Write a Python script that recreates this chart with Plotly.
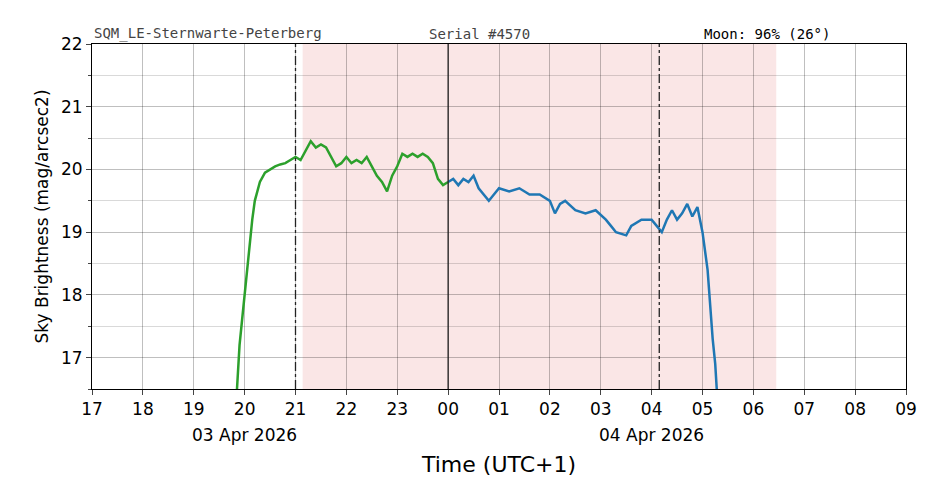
import plotly.graph_objects as go

hour_labels = ["17","18","19","20","21","22","23","00","01","02","03","04","05","06","07","08","09"]
# time in hours since 17:00 local (UTC+1)
green_t = [2.85,2.9,2.95,3.0,3.05,3.1,3.15,3.2,3.3,3.4,3.5,3.6,3.7,3.8,3.9,4.0,4.1,4.2,4.3,4.4,4.5,4.6,4.7,4.8,4.9,5.0,5.1,5.2,5.3,5.4,5.5,5.6,5.7,5.8,5.9,6.0,6.1,6.2,6.3,6.4,6.5,6.6,6.7,6.8,6.9,7.0]
green_v = [16.5,17.2,17.6,18.0,18.5,18.9,19.2,19.5,19.8,19.95,20.0,20.05,20.08,20.1,20.15,20.2,20.15,20.3,20.45,20.35,20.4,20.35,20.2,20.05,20.1,20.2,20.1,20.15,20.1,20.2,20.05,19.9,19.8,19.65,19.9,20.05,20.25,20.2,20.25,20.2,20.25,20.2,20.1,19.85,19.75,19.8]
blue_t = [7.0,7.1,7.2,7.3,7.4,7.5,7.6,7.7,7.8,7.9,8.0,8.2,8.4,8.6,8.8,9.0,9.1,9.2,9.3,9.5,9.7,9.9,10.1,10.2,10.3,10.5,10.6,10.8,11.0,11.1,11.2,11.3,11.4,11.5,11.6,11.7,11.8,11.9,12.0,12.1,12.15,12.2,12.25,12.28]
blue_v = [19.8,19.85,19.75,19.85,19.8,19.9,19.7,19.6,19.5,19.6,19.7,19.65,19.7,19.6,19.6,19.5,19.3,19.45,19.5,19.35,19.3,19.35,19.2,19.1,19.0,18.95,19.1,19.2,19.2,19.1,19.0,19.2,19.35,19.2,19.3,19.45,19.25,19.4,19.0,18.4,17.8,17.3,16.9,16.5]
night_start, night_end = 4.14, 13.45
sun_lines = [4.0, 11.15]
midnight = 7.0

fig = go.Figure()
fig.add_vrect(x0=night_start, x1=night_end, fillcolor="rgba(220,80,80,0.14)", line_width=0, layer="below")
fig.add_trace(go.Scatter(x=green_t, y=green_v, mode="lines", line=dict(color="#2ca02c", width=2.5)))
fig.add_trace(go.Scatter(x=blue_t, y=blue_v, mode="lines", line=dict(color="#1f77b4", width=2.5)))
for s in sun_lines:
    fig.add_vline(x=s, line=dict(color="#222", width=1.3, dash="dashdot"))
fig.add_vline(x=midnight, line=dict(color="#222", width=1.3))

fig.update_xaxes(range=[0,16], tickvals=list(range(17)), ticktext=hour_labels, automargin=False,
                 showgrid=True, gridcolor="rgba(0,0,0,0.25)", gridwidth=0.5,
                 ticks="outside", ticklen=5, showline=True, linecolor="black", mirror=True, zeroline=False,
                 title=dict(text="Time (UTC+1)", font=dict(size=22), standoff=38), tickfont=dict(size=17))
fig.update_yaxes(range=[16.5,22], dtick=1, automargin=False,
                 minor=dict(dtick=0.5, showgrid=True, gridcolor="rgba(0,0,0,0.15)", ticks="outside", ticklen=3),
                 showgrid=True, gridcolor="rgba(0,0,0,0.25)", gridwidth=0.5, ticks="outside", ticklen=5,
                 showline=True, linecolor="black", mirror=True, zeroline=False,
                 title=dict(text="Sky Brightness (mag/arcsec2)", font=dict(size=17), standoff=8), tickfont=dict(size=17))
mono = dict(family="DejaVu Sans Mono", size=14, color="#444")
fig.add_annotation(x=0, y=1, xref="paper", yref="paper", text="SQM_LE-Sternwarte-Peterberg", showarrow=False, xanchor="left", yanchor="bottom", font=mono, yshift=0)
fig.add_annotation(x=0.412, y=1, xref="paper", yref="paper", text="Serial #4570", showarrow=False, xanchor="left", yanchor="bottom", font=mono, yshift=0)
fig.add_annotation(x=0.749, y=1, xref="paper", yref="paper", text="Moon: 96% (26°)", showarrow=False, xanchor="left", yanchor="bottom", font=dict(family="DejaVu Sans Mono", size=14, color="black"), yshift=0)
fig.add_annotation(x=3.0, y=0, xref="x", yref="paper", text="03 Apr 2026", showarrow=False, yanchor="top", yshift=-34, font=dict(size=17))
fig.add_annotation(x=11.0, y=0, xref="x", yref="paper", text="04 Apr 2026", showarrow=False, yanchor="top", yshift=-34, font=dict(size=17))
fig.update_layout(width=926, height=488, margin=dict(l=84, r=28, t=36, b=107, autoexpand=False), showlegend=False,
                  plot_bgcolor="white", paper_bgcolor="white", font=dict(family="DejaVu Sans", color="black"))
fig.write_html("out.html")
